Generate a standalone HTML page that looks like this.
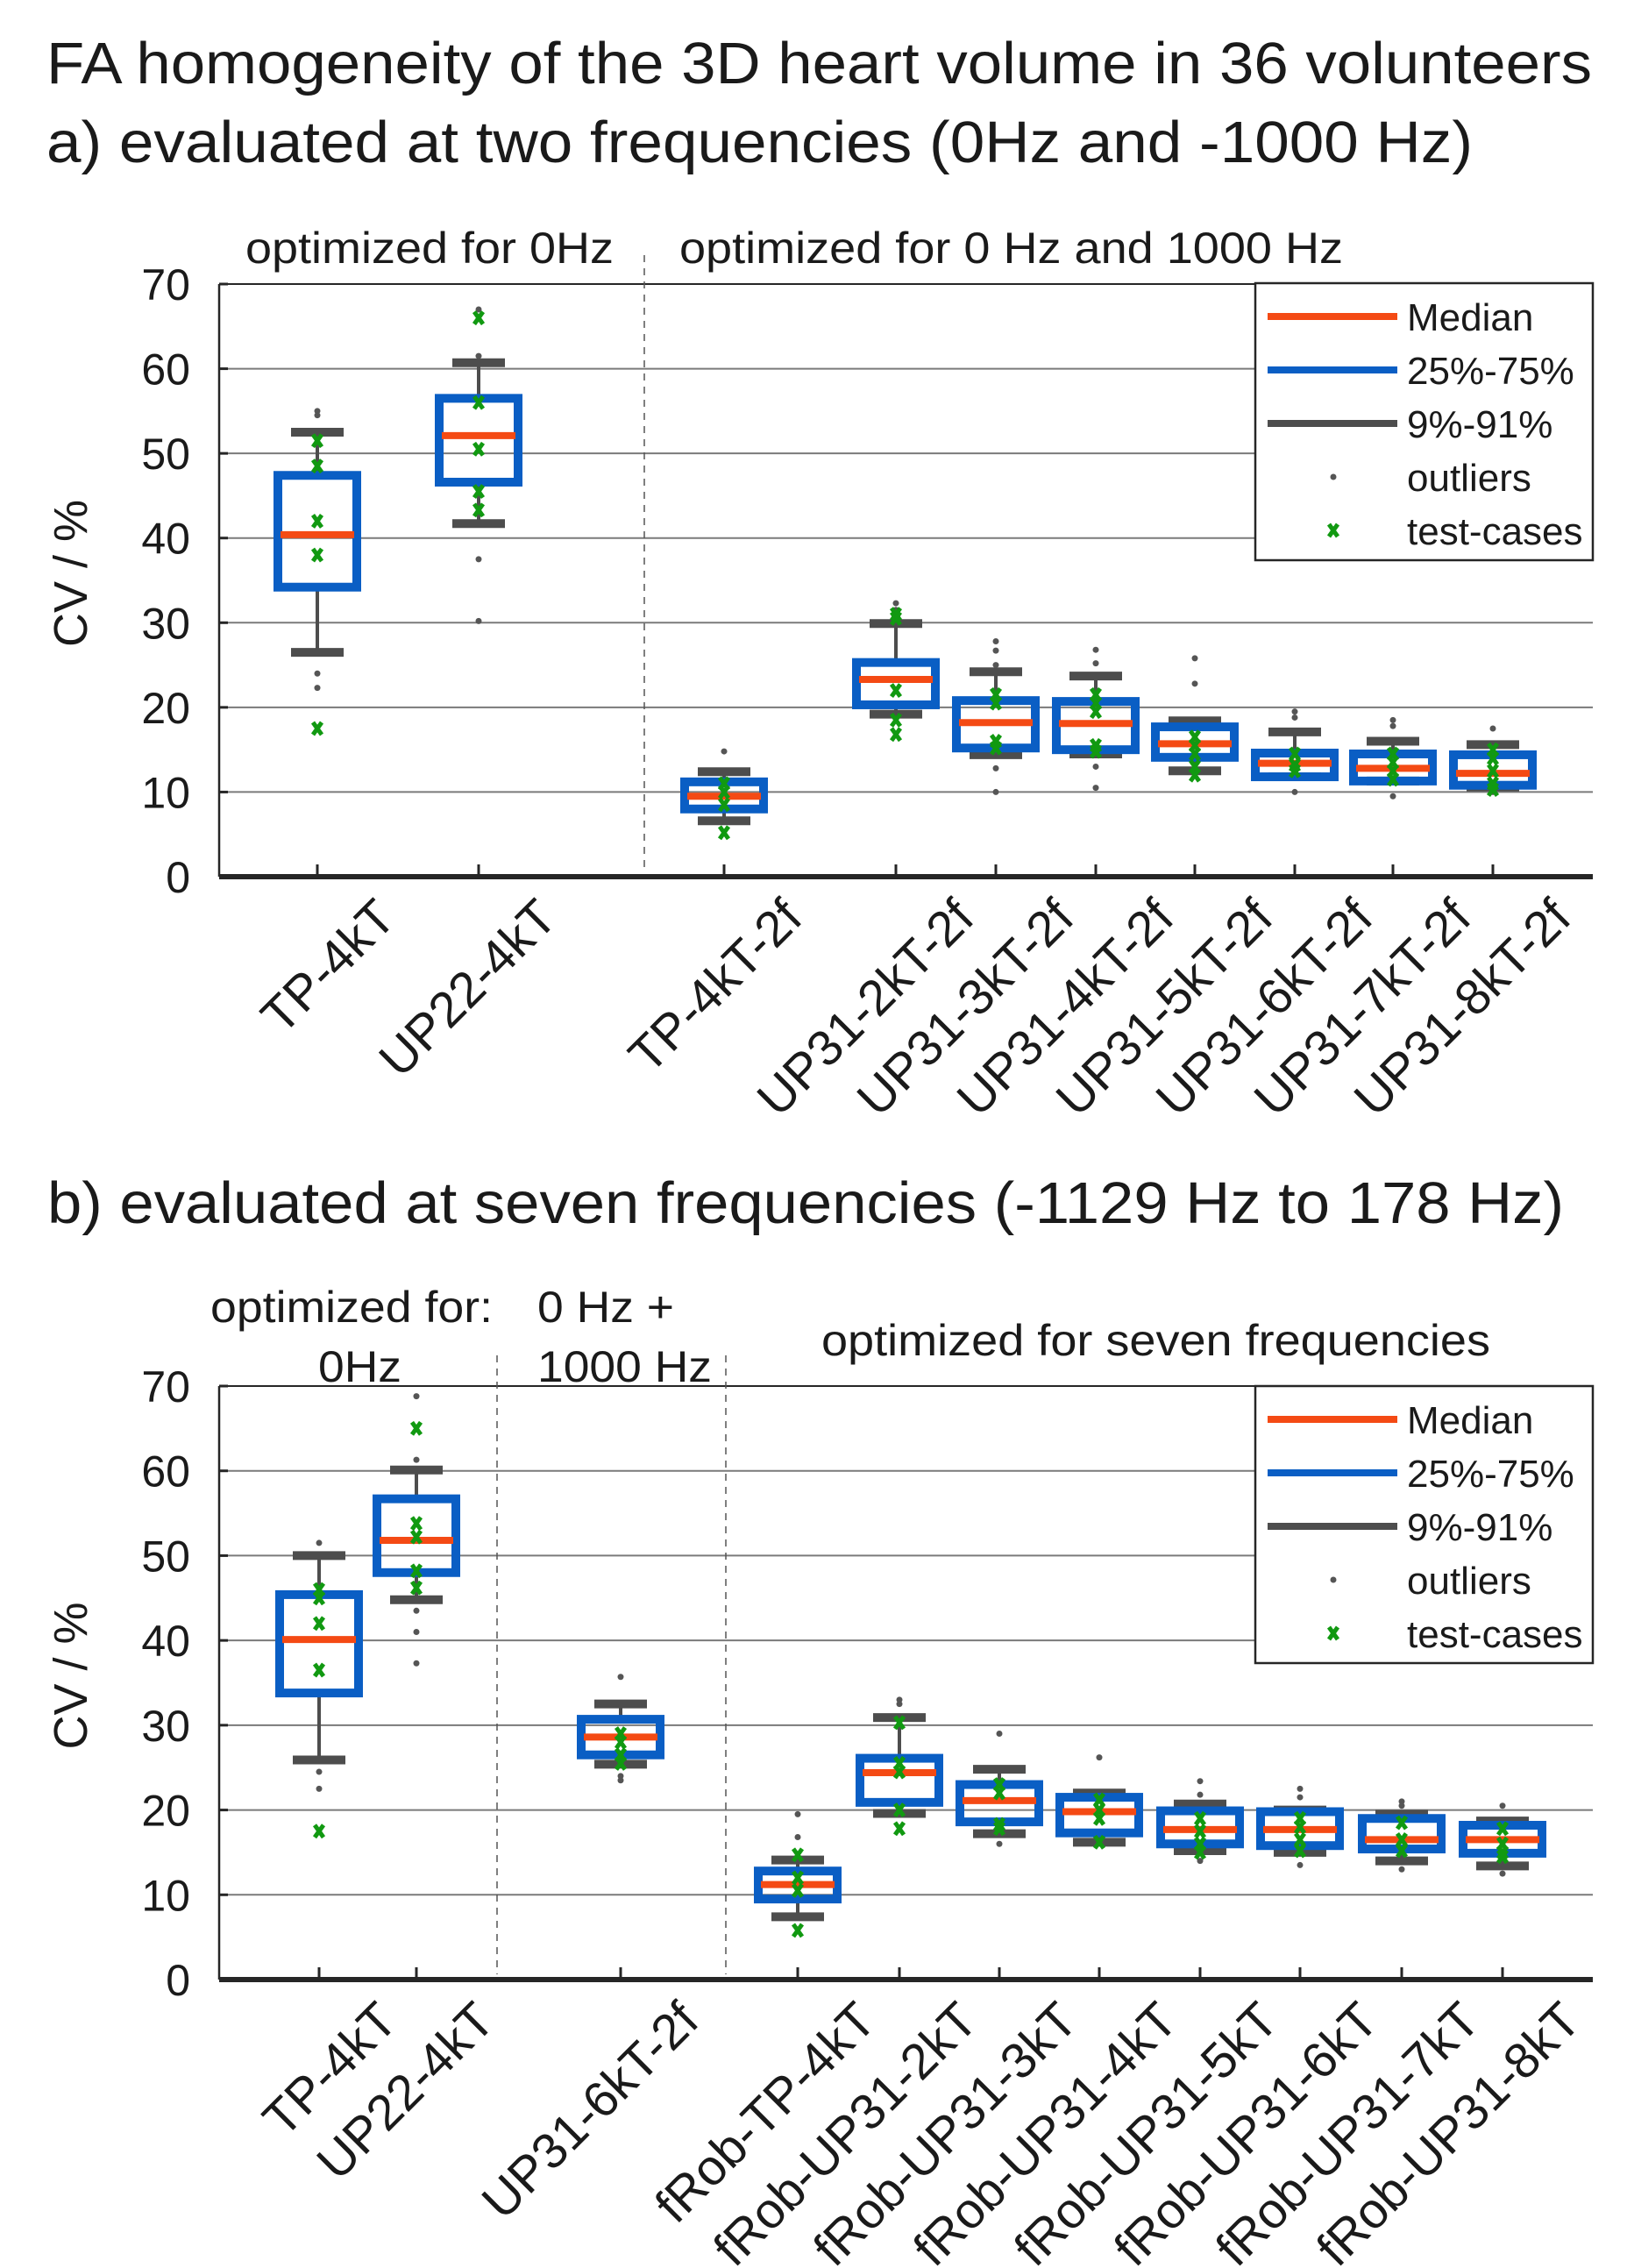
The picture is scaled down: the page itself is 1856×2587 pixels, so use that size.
<!DOCTYPE html>
<html><head><meta charset="utf-8"><style>
html,body{margin:0;padding:0;background:#fff}
svg{display:block}
text{font-family:"Liberation Sans",Arial,sans-serif;fill:#1a1a1a}
</style></head><body>
<svg id="chart" width="1856" height="2587" viewBox="0 0 1856 2587" xmlns="http://www.w3.org/2000/svg">
<text x="53" y="95" font-size="67" textLength="1763" lengthAdjust="spacingAndGlyphs">FA homogeneity of the 3D heart volume in 36 volunteers</text>
<text x="53" y="185" font-size="67" textLength="1627" lengthAdjust="spacingAndGlyphs">a) evaluated at two frequencies (0Hz and -1000 Hz)</text>
<text x="54" y="1395" font-size="67" textLength="1730" lengthAdjust="spacingAndGlyphs">b) evaluated at seven frequencies (-1129 Hz to 178 Hz)</text>
<text x="280" y="300" font-size="50" textLength="420" lengthAdjust="spacingAndGlyphs">optimized for 0Hz</text>
<text x="775" y="300" font-size="50" textLength="757" lengthAdjust="spacingAndGlyphs">optimized for 0 Hz and 1000 Hz</text>
<text x="240" y="1508" font-size="50" textLength="322" lengthAdjust="spacingAndGlyphs">optimized for:</text>
<text x="363" y="1576" font-size="50" textLength="95" lengthAdjust="spacingAndGlyphs">0Hz</text>
<text x="613" y="1508" font-size="50" textLength="156" lengthAdjust="spacingAndGlyphs">0 Hz +</text>
<text x="613" y="1576" font-size="50" textLength="199" lengthAdjust="spacingAndGlyphs">1000 Hz</text>
<text x="937" y="1546" font-size="50" textLength="763" lengthAdjust="spacingAndGlyphs">optimized for seven frequencies</text>
<g id="panelA"></g>
<g id="panelB"></g>
</svg>
<script>
// ---- Panel A data ----
const catsA = ["TP-4kT","UP22-4kT","TP-4kT-2f","UP31-2kT-2f","UP31-3kT-2f","UP31-4kT-2f","UP31-5kT-2f","UP31-6kT-2f","UP31-7kT-2f","UP31-8kT-2f"];
const q1A = [34.2,46.6,8.0,20.3,15.2,15.0,14.1,11.8,11.3,10.8];
const q3A = [47.4,56.5,11.2,25.3,20.8,20.7,17.7,14.6,14.5,14.4];
const medA = [40.4,52.1,9.5,23.3,18.2,18.1,15.7,13.4,12.8,12.2];
const loA = [26.5,41.7,6.6,19.2,14.4,14.5,12.5,11.8,11.3,10.6];
const hiA = [52.5,60.7,12.4,29.9,24.2,23.7,18.4,17.1,16.0,15.6];
const outA = [[55,54.5,24,22.3],[67,61.5,37.5,30.2],[14.8],[32.3,31.5],[27.8,26.7,25,12.8,10],[26.8,25.2,13,10.5],[25.8,22.8],[19.5,18.8,10],[18.5,17.8,9.5],[17.5,10]];
const testA = [[51.5,48.5,42,38,17.5],[66,56,50.5,45.5,43.3],[11,10,8.5,5.2],[31,30.5,22,18.5,16.8],[21.5,20.5,16,15.2],[21.5,20.5,19.5,15.5,14.8],[16.5,15.5,14.5,13,12],[14.5,13.2,12.5],[14.5,13.5,12.5,11.5],[15,14,12.5,11,10.3]];
// ---- Panel B data ----
const catsB = ["TP-4kT","UP22-4kT","UP31-6kT-2f","fRob-TP-4kT","fRob-UP31-2kT","fRob-UP31-3kT","fRob-UP31-4kT","fRob-UP31-5kT","fRob-UP31-6kT","fRob-UP31-7kT","fRob-UP31-8kT"];
const q1B = [33.8,48.0,26.5,9.5,20.9,18.6,17.3,16.0,15.8,15.4,14.9];
const q3B = [45.4,56.7,30.7,12.8,26.1,23.0,21.5,19.9,19.8,19.0,18.2];
const medB = [40.1,51.8,28.6,11.2,24.4,21.1,19.8,17.7,17.7,16.5,16.5];
const loB = [25.9,44.8,25.4,7.4,19.6,17.2,16.2,15.2,15.0,14.0,13.4];
const hiB = [50.0,60.1,32.5,14.1,30.9,24.8,22.0,20.7,20.0,19.5,18.7];
const outB = [[51.5,24.5,22.5],[68.8,61.3,43.5,41,37.3],[35.7,24,23.5],[19.5,16.8],[33,32.5],[29,16],[26.2],[23.4,21.8,14],[22.5,21.5,13.5],[21,20.5,13],[20.5,12.5]];
const testB = [[46,45,42,36.5,17.5],[65,53.8,52.2,48.2,46.2],[29,28,26.5,25.5],[14.7,12,10.5,5.8],[30.3,25.5,24.5,20,17.8],[23,22,18.3,17.8],[21.2,20,19,16.2],[19,17.5,16,15],[19,18,16.5,15.2],[18.5,16.5,15.2],[17.8,16,15,14.5]];
const yTicks = ["0","10","20","30","40","50","60","70"];
const legendLabels = ["Median","25%-75%","9%-91%","outliers","test-cases"];

const NS="http://www.w3.org/2000/svg";
function mk(parent,tag,attrs,txt){const e=document.createElementNS(NS,tag);for(const k in attrs)e.setAttribute(k,attrs[k]);if(txt!==undefined)e.textContent=txt;parent.appendChild(e);return e;}

function drawPanel(g,cfg){
  const {top,bottom,left,right,cats,xOf,q1,q3,med,lo,hi,outs,tests,dashes,legTop,legLeft}=cfg;
  const ys=v=>bottom-(v/70)*(bottom-top);
  yTicks.forEach(t=>{const v=+t;const y=ys(v);
    if(v>0&&v<70){const gl=mk(g,'line',{x1:left,x2:right,y1:y,y2:y,stroke:'#7a7a7a','stroke-width':2});
      }
    const tk=mk(g,'line',{x1:left,x2:left+10,y1:y,y2:y,stroke:'#262626','stroke-width':3});
    
    const tl=mk(g,'text',{x:217,y:y+18,'font-size':50,'text-anchor':'end'},t);
    
  });
  const tb=mk(g,'line',{x1:left,x2:right,y1:top,y2:top,stroke:'#262626','stroke-width':2});
  
  const ya=mk(g,'line',{x1:left,x2:left,y1:top,y2:bottom,stroke:'#262626','stroke-width':2.5});
  
  dashes.forEach((d,i)=>{const l=mk(g,'line',{x1:d[0],x2:d[0],y1:d[1],y2:bottom-6,stroke:'#555','stroke-width':1.5,'stroke-dasharray':'8,7'});
    });
  const yl=mk(g,'text',{x:0,y:0,'font-size':54,'text-anchor':'middle',transform:`translate(99,${(top+bottom)/2-8}) rotate(-90)`},'CV / %');
  
  cats.forEach((c,i)=>{
    const x=xOf(i);
    const bg=mk(g,'g',{});
    
    mk(bg,'line',{x1:x,x2:x,y1:ys(q3[i]),y2:ys(hi[i]),stroke:'#4d4d4d','stroke-width':4});
    mk(bg,'line',{x1:x,x2:x,y1:ys(q1[i]),y2:ys(lo[i]),stroke:'#4d4d4d','stroke-width':4});
    mk(bg,'line',{x1:x-30,x2:x+30,y1:ys(hi[i]),y2:ys(hi[i]),stroke:'#4d4d4d','stroke-width':10});
    mk(bg,'line',{x1:x-30,x2:x+30,y1:ys(lo[i]),y2:ys(lo[i]),stroke:'#4d4d4d','stroke-width':10});
    mk(bg,'rect',{x:x-45,y:ys(q3[i]),width:90,height:ys(q1[i])-ys(q3[i]),fill:'none',stroke:'#0a5ec4','stroke-width':10});
    mk(bg,'line',{x1:x-42,x2:x+42,y1:ys(med[i]),y2:ys(med[i]),stroke:'#f44a14','stroke-width':8});
    outs[i].forEach(v=>{const o=mk(g,'circle',{cx:x,cy:ys(v),r:3.5,fill:'#555'});
      });
    tests[i].forEach(v=>{const y=ys(v);const p=mk(g,'path',{d:`M${x-5},${y-7}L${x+5},${y+7}M${x+5},${y-7}L${x-5},${y+7}`,stroke:'#119911','stroke-width':5});
      });
    const tk=mk(g,'line',{x1:x,x2:x,y1:bottom,y2:bottom-14,stroke:'#262626','stroke-width':3});
    
    const lb=mk(g,'text',{x:0,y:0,'font-size':57,'text-anchor':'end',transform:`translate(${x+92},${bottom+50}) rotate(-45)`},c);
    
  });
  const xa=mk(g,'line',{x1:left,x2:right,y1:bottom,y2:bottom,stroke:'#262626','stroke-width':6});
  
  const lg=mk(g,'g',{});
  
  mk(lg,'rect',{x:legLeft,y:legTop,width:right-legLeft,height:316,fill:'#fff',stroke:'#262626','stroke-width':2.5});
  const cols=['#f44a14','#0a5ec4','#4d4d4d'];
  legendLabels.forEach((L,k)=>{
    const y=legTop+38+k*61;
    const e=mk(lg,'g',{});
    
    
    if(k<3) mk(e,'line',{x1:legLeft+14,x2:legLeft+162,y1:y,y2:y,stroke:cols[k],'stroke-width':8});
    else if(k===3) mk(e,'circle',{cx:legLeft+89,cy:y,r:3.5,fill:'#555'});
    else mk(e,'path',{d:`M${legLeft+84},${y-7}L${legLeft+94},${y+7}M${legLeft+94},${y-7}L${legLeft+84},${y+7}`,stroke:'#119911','stroke-width':5});
    mk(e,'text',{x:legLeft+173,y:y+16,'font-size':44},L);
  });
}
drawPanel(document.getElementById('panelA'),{top:324,bottom:1000,left:250,right:1817,cats:catsA,
  xOf:i=>[362,546,826,1022,1136,1250,1363,1477,1589,1703][i],
  q1:q1A,q3:q3A,med:medA,lo:loA,hi:hiA,outs:outA,tests:testA,dashes:[[735,291]],legTop:323,legLeft:1432});
drawPanel(document.getElementById('panelB'),{top:1581,bottom:2258,left:250,right:1817,cats:catsB,
  xOf:i=>[364,475,708,910,1026,1140,1254,1369,1483,1599,1714][i],
  q1:q1B,q3:q3B,med:medB,lo:loB,hi:hiB,outs:outB,tests:testB,dashes:[[567,1546],[828,1546]],legTop:1581,legLeft:1432});
</script>
</body></html>
